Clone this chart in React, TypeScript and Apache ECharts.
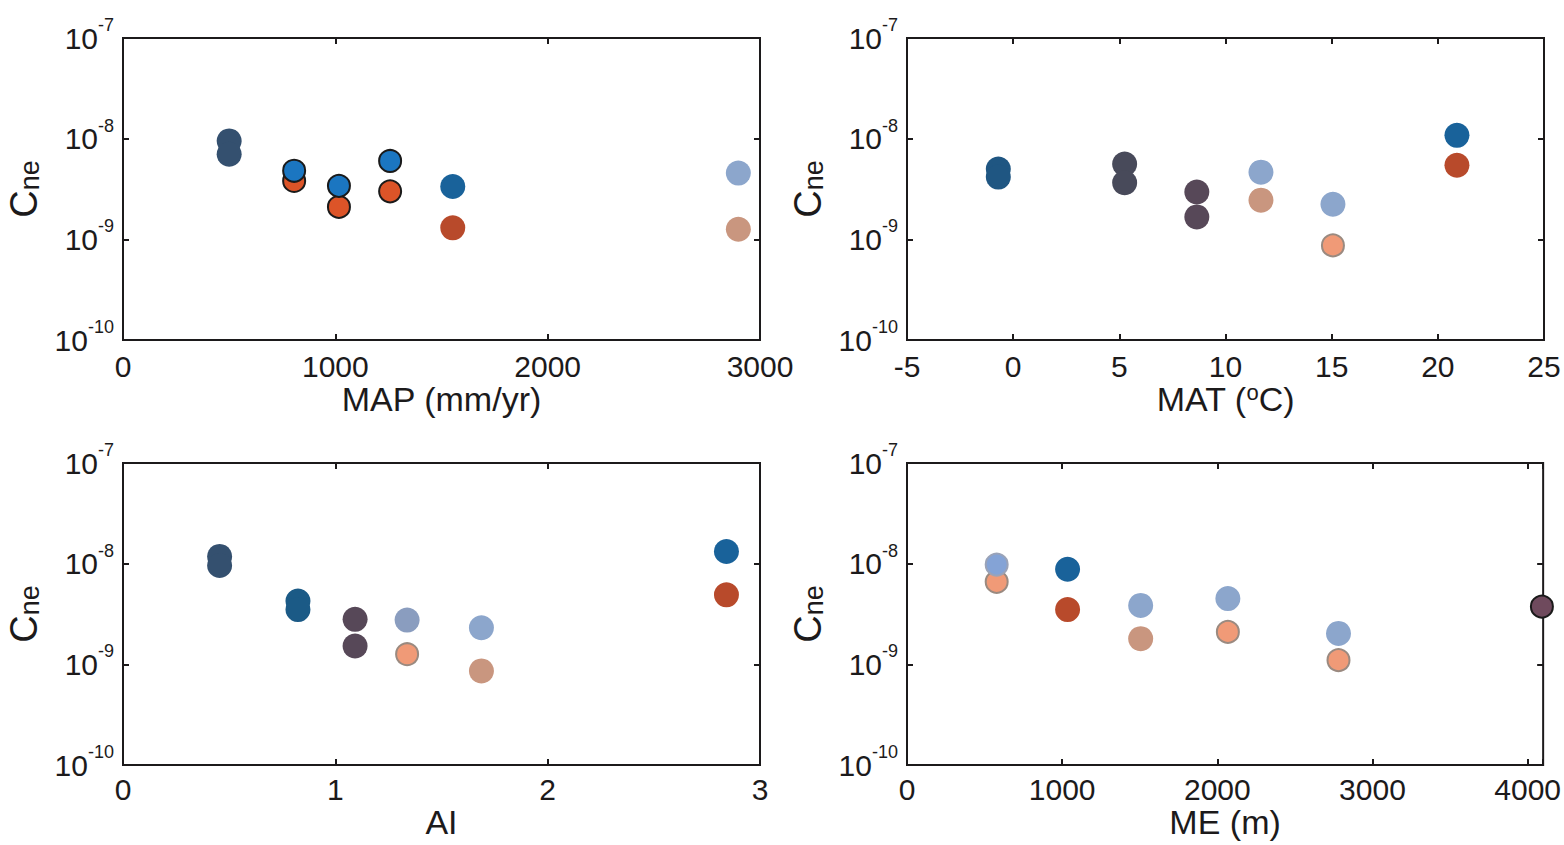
import React, { useEffect, useRef } from "react";
import * as echarts from "echarts";

// ---- Panel (a): mean annual precipitation ----
const mapValues = [500, 500, 806, 806, 1017, 1017, 1258, 1258, 1553, 1553, 2898, 2898];
const mapCne = [9.5e-9, 7.0e-9, 3.8e-9, 4.8e-9, 2.1e-9, 3.4e-9, 3.0e-9, 6.0e-9, 3.35e-9, 1.3e-9, 4.55e-9, 1.26e-9];
const mapGroup = ["navy", "navy", "orangeRing", "blueRing", "orangeRing", "blueRing", "orangeRing", "blueRing", "deepBlue", "rust", "paleBlue", "tan"];

// ---- Panel (b): mean annual temperature ----
const matValues = [-0.7, -0.7, 5.25, 5.25, 8.65, 8.65, 11.67, 11.67, 15.06, 15.06, 20.9, 20.9];
const matCne = [5.0e-9, 4.15e-9, 5.6e-9, 3.65e-9, 2.95e-9, 1.67e-9, 4.65e-9, 2.45e-9, 2.23e-9, 8.7e-10, 1.08e-8, 5.45e-9];
const matGroup = ["steel", "steel", "slate", "slate", "plum", "plum", "paleBlue", "tan", "paleBlue", "salmonRing", "deepBlue", "rust"];

// ---- Panel (c): aridity index ----
const aiValues = [0.455, 0.455, 0.824, 0.824, 1.093, 1.093, 1.338, 1.338, 1.688, 1.688, 2.842, 2.842];
const aiCne = [1.18e-8, 9.6e-9, 4.25e-9, 3.5e-9, 2.8e-9, 1.52e-9, 2.75e-9, 1.26e-9, 2.31e-9, 8.6e-10, 1.32e-8, 4.9e-9];
const aiGroup = ["navy", "navy", "marine", "marine", "plum", "plum", "blueGray", "salmonRing", "paleBlue", "tan", "deepBlue", "rust"];

// ---- Panel (d): mean elevation ----
const meValues = [578, 578, 1035, 1035, 1506, 1506, 2068, 2068, 2781, 2781, 4092];
const meCne = [6.6e-9, 9.8e-9, 8.8e-9, 3.5e-9, 3.85e-9, 1.8e-9, 4.5e-9, 2.1e-9, 2.03e-9, 1.1e-9, 3.75e-9];
const meGroup = ["salmonRing", "periwinkleRing", "deepBlue", "rust", "paleBlue", "tan", "paleBlue", "salmonRing", "paleBlue", "salmonRing", "mauveRing"];

// Shared log axis of C_ne
const cneMin = 1e-10;
const cneMax = 1e-7;

const FONT = '"Liberation Sans", Arial, Helvetica, sans-serif';
const INK = "#1c1a1b";

const STYLES: Record<string, any> = {
  navy: { color: "#34506f" },
  blueRing: { color: "#1b76c1", borderColor: "#1a1a1a", borderWidth: 2 },
  orangeRing: { color: "#dc5428", borderColor: "#1a1a1a", borderWidth: 2 },
  deepBlue: { color: "#19629a" },
  rust: { color: "#b84a2b" },
  paleBlue: { color: "#8ca6cc" },
  tan: { color: "#c9967f" },
  steel: { color: "#1f5682" },
  slate: { color: "#484a5a" },
  plum: { color: "#574858" },
  marine: { color: "#1b5a86" },
  blueGray: { color: "#8a9dbf" },
  salmonRing: { color: "#f09a77", borderColor: "#9a8a80", borderWidth: 2 },
  periwinkleRing: { color: "#84a3d6", borderColor: "#9aa3b8", borderWidth: 2 },
  mauveRing: { color: "#6f4a5d", borderColor: "#1a1a1a", borderWidth: 2 },
};

type Panel = {
  left: number;
  top: number;
  xs: number[];
  ys: number[];
  groups: string[];
  min: number;
  max: number;
  interval: number;
  name: string;
  nameGap: number;
  labelMargin: number;
};

const PANELS: Panel[] = [
  { left: 123, top: 38, xs: mapValues, ys: mapCne, groups: mapGroup, min: 0, max: 3000, interval: 1000, name: "MAP (mm/yr)", nameGap: 40, labelMargin: 11 },
  { left: 907, top: 38, xs: matValues, ys: matCne, groups: matGroup, min: -5, max: 25, interval: 5, name: "{n|MAT (}{s|o}{n|C)}", nameGap: 40, labelMargin: 11 },
  { left: 123, top: 463, xs: aiValues, ys: aiCne, groups: aiGroup, min: 0, max: 3, interval: 1, name: "AI", nameGap: 37, labelMargin: 9 },
  { left: 907, top: 463, xs: meValues, ys: meCne, groups: meGroup, min: 0, max: 4100, interval: 1000, name: "ME (m)", nameGap: 37, labelMargin: 9 },
];

const GRID_W = 637;
const GRID_H = 302;

function buildOption() {
  const grid: any[] = [];
  const xAxis: any[] = [];
  const yAxis: any[] = [];
  const series: any[] = [];

  PANELS.forEach((p, i) => {
    grid.push({
      left: p.left,
      top: p.top,
      width: GRID_W,
      height: GRID_H,
      show: true,
      borderColor: INK,
      borderWidth: 2,
      backgroundColor: "transparent",
    });

    const tick = { show: true, inside: true, length: 6, lineStyle: { color: INK, width: 2 } };

    xAxis.push({
      type: "value",
      gridIndex: i,
      min: p.min,
      max: p.max,
      interval: p.interval,
      position: "bottom",
      splitLine: { show: false },
      axisLine: { show: true, onZero: false, lineStyle: { color: INK, width: 2 } },
      axisTick: tick,
      axisLabel: {
        color: INK,
        fontFamily: FONT,
        fontSize: 30,
        margin: p.labelMargin,
        formatter: (v: number) => (Math.abs(v / p.interval - Math.round(v / p.interval)) < 1e-6 ? String(v) : ""),
      },
      name: p.name,
      nameLocation: "middle",
      nameGap: p.nameGap,
      nameTextStyle: {
        color: INK,
        fontFamily: FONT,
        fontSize: 34,
        rich: {
          n: { color: INK, fontFamily: FONT, fontSize: 34 },
          s: { color: INK, fontFamily: FONT, fontSize: 22, verticalAlign: "top" },
        },
      },
    });
    xAxis.push({
      type: "value",
      gridIndex: i,
      min: p.min,
      max: p.max,
      interval: p.interval,
      position: "top",
      splitLine: { show: false },
      axisLine: { show: false, onZero: false },
      axisTick: tick,
      axisLabel: { show: false },
    });

    yAxis.push({
      type: "log",
      logBase: 10,
      gridIndex: i,
      min: cneMin,
      max: cneMax,
      position: "left",
      splitLine: { show: false },
      axisLine: { show: true, onZero: false, lineStyle: { color: INK, width: 2 } },
      axisTick: tick,
      minorTick: { show: false },
      axisLabel: {
        margin: 9,
        formatter: (v: number) => `{b|10}{s|${Math.round(Math.log10(v))}}`,
        rich: {
          b: { color: INK, fontFamily: FONT, fontSize: 30, padding: [7, 0, 7, 0] },
          s: { color: INK, fontFamily: FONT, fontSize: 18, verticalAlign: "top" },
        },
      },
      name: "{c|C}{s|ne}",
      nameLocation: "middle",
      nameRotate: 90,
      nameGap: 80,
      nameTextStyle: {
        rich: {
          c: { color: INK, fontFamily: FONT, fontSize: 38 },
          s: { color: INK, fontFamily: FONT, fontSize: 27, verticalAlign: "bottom" },
        },
      },
    });
    yAxis.push({
      type: "log",
      logBase: 10,
      gridIndex: i,
      min: cneMin,
      max: cneMax,
      position: "right",
      splitLine: { show: false },
      axisLine: { show: false, onZero: false },
      axisTick: tick,
      axisLabel: { show: false },
    });

    series.push({
      type: "scatter",
      xAxisIndex: 2 * i,
      yAxisIndex: 2 * i,
      symbol: "circle",
      clip: false,
      data: p.xs.map((x, k) => {
        const st = STYLES[p.groups[k]];
        const ringed = !!st.borderWidth;
        return {
          value: [x, p.ys[k]],
          symbolSize: ringed ? 22 : 25,
          itemStyle: { ...st, opacity: 1 },
        };
      }),
    });
  });

  return { animation: false, grid, xAxis, yAxis, series };
}

export default function App() {
  const ref = useRef<HTMLDivElement>(null);

  useEffect(() => {
    document.body.style.margin = "0";
    if (!ref.current) return;
    const chart = echarts.init(ref.current, undefined, { renderer: "svg" });
    chart.setOption(buildOption());
    return () => chart.dispose();
  }, []);

  return <div ref={ref} style={{ width: 1564, height: 845, background: "#ffffff" }} />;
}
